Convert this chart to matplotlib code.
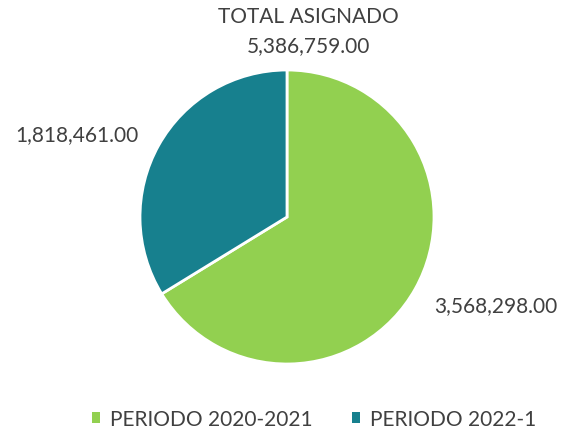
import matplotlib.pyplot as plt
from matplotlib.patches import Patch

periodos = ['PERIODO 2020-2021', 'PERIODO 2022-1']
montos = [3568298.00, 1818461.00]
colores = ['#92D050', '#17808E']
texto = '#404040'

plt.rcParams['font.family'] = ['Lato', 'DejaVu Sans']
fs = 15

fig = plt.figure(figsize=(5.64, 4.35), dpi=100)
# pie area: center ~ (287, 218) px, radius ~147 px
ax = fig.add_axes([(287 - 147) / 564, (435 - 218 - 147) / 435, 294 / 564, 294 / 435])
wedges, _ = ax.pie(montos, colors=colores, startangle=90, counterclock=False,
                   wedgeprops=dict(edgecolor='white', linewidth=2))
ax.set_xlim(-1, 1)
ax.set_ylim(-1, 1)
ax.set_aspect('equal')
ax.axis('off')

fmt = lambda v: f'{v:,.2f}'
fig.text(496 / 564, 1 - 306 / 435, fmt(montos[0]), ha='center', va='center', fontsize=fs, color=texto)
fig.text(77 / 564, 1 - 135 / 435, fmt(montos[1]), ha='center', va='center', fontsize=fs, color=texto)

fig.text(308 / 564, 1 - 17 / 435, 'TOTAL ASIGNADO', ha='center', va='center', fontsize=fs, color=texto)
fig.text(308 / 564, 1 - 46 / 435, fmt(sum(montos)), ha='center', va='center', fontsize=fs, color=texto)

handles = [Patch(facecolor=c, edgecolor='none') for c in colores]
fig.legend(handles, periodos, loc='center', bbox_to_anchor=(314 / 564, 1 - 420 / 435), ncol=2,
           frameon=False, fontsize=fs, labelcolor=texto, handlelength=0.4, handleheight=0.4,
           handletextpad=0.45, columnspacing=1.9, borderpad=0, borderaxespad=0)

fig.savefig('out.png', dpi=100)
